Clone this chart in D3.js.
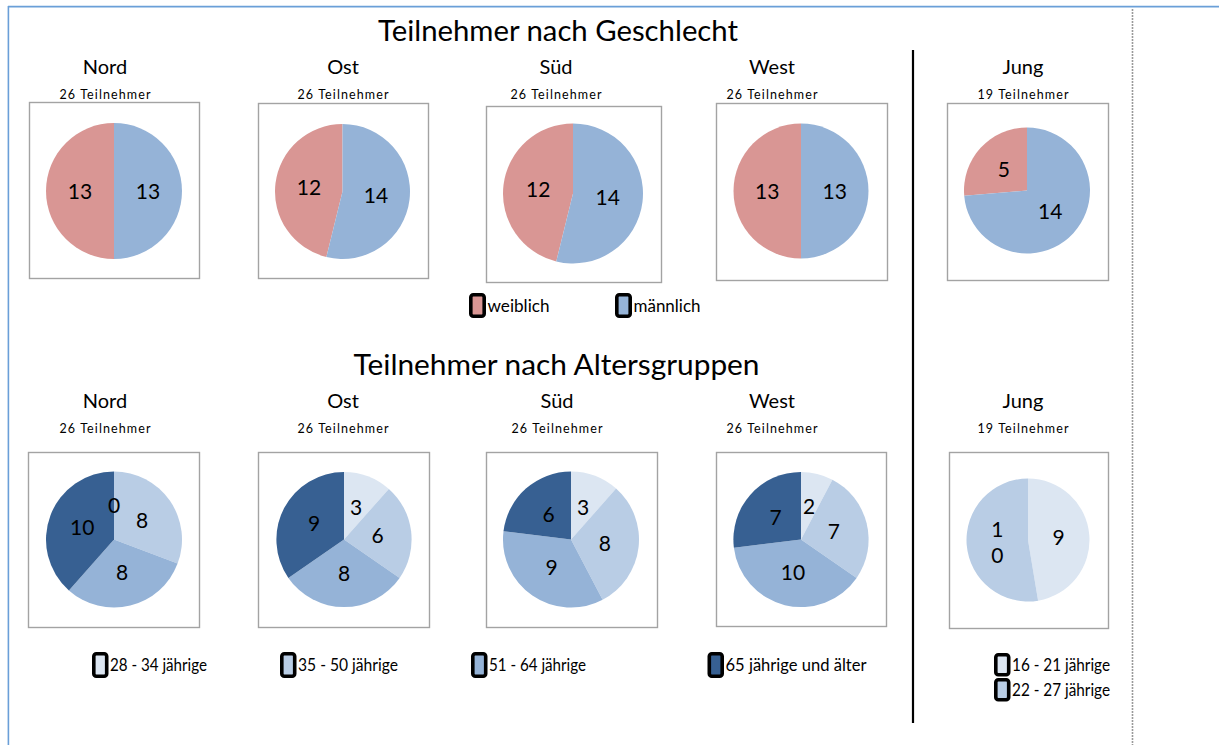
<!DOCTYPE html>
<html>
<head>
<meta charset="utf-8">
<script src="https://cdn.jsdelivr.net/npm/d3@7"></script>
<style>
  html, body { margin: 0; padding: 0; background: #ffffff; }
  svg { display: block; font-family: Lato, "Open Sans", sans-serif; }
</style>
</head>
<body>
<svg id="chart" width="1219" height="745"></svg>
<script>
// ---------------- DATA ----------------
const titleGender = "Teilnehmer nach Geschlecht";
const titleAge = "Teilnehmer nach Altersgruppen";
const regions = ["Nord", "Ost", "Süd", "West"];
const jungName = "Jung";

const genderCategories = ["weiblich", "männlich"];
const weiblich = [13, 12, 12, 13];
const maennlich = [13, 14, 14, 13];
const jungWeiblich = 5;
const jungMaennlich = 14;

const ageCategories = ["28 - 34 jährige", "35 - 50 jährige", "51 - 64 jährige", "65 jährige und älter"];
const age28to34 = [0, 3, 3, 2];
const age35to50 = [8, 6, 8, 7];
const age51to64 = [8, 8, 9, 10];
const age65plus = [10, 9, 6, 7];

const jungAgeCategories = ["16 - 21 jährige", "22 - 27 jährige"];
const jungAge = [9, 10];

const countSuffix = "Teilnehmer";

// ---------------- STYLES / LAYOUT ----------------
const genderColors = ["#d99694", "#95b3d7"];
const ageColors = ["#dce6f2", "#b9cde5", "#95b3d7", "#376092"];
const jungAgeColors = ["#dce6f2", "#b9cde5"];

const genderLayout = [
  { tx: 105,  box: [29, 102, 170, 176],  c: [114, 191],   r: 68 },
  { tx: 343,  box: [258, 103, 170, 175], c: [342.5, 191.5], r: 67.5 },
  { tx: 556,  box: [486, 106, 175, 176], c: [573, 193.5], r: 70 },
  { tx: 772,  box: [716, 103, 171, 177], c: [801, 191],   r: 67.5 },
  { tx: 1023, box: [947, 103, 161, 177], c: [1027, 190.5], r: 63 }
];
const ageLayout = [
  { tx: 105,  box: [28, 452, 171, 175],  c: [114, 539.5], r: 68 },
  { tx: 343,  box: [258, 452, 171, 175], c: [344, 539.5], r: 67.6 },
  { tx: 557,  box: [486, 452, 171, 175], c: [571, 539.5], r: 68 },
  { tx: 772,  box: [716, 452, 170, 174], c: [801, 539.5], r: 67.6 },
  { tx: 1023, box: [949, 452, 159, 176], c: [1028, 540],  r: 61.5 }
];

const svg = d3.select("#chart");

// Outer frame (blue) and dashed page boundary
svg.append("line").attr("x1", 8).attr("x2", 1219).attr("y1", 6.6).attr("y2", 6.6)
  .attr("stroke", "#6a9fd8").attr("stroke-width", 1.6);
svg.append("line").attr("x1", 8.4).attr("x2", 8.4).attr("y1", 6).attr("y2", 745)
  .attr("stroke", "#6a9fd8").attr("stroke-width", 1.6);
svg.append("line").attr("x1", 1132.5).attr("x2", 1132.5).attr("y1", 9).attr("y2", 745)
  .attr("stroke", "#9a9a9a").attr("stroke-width", 1.6).attr("stroke-dasharray", "2,1");
// Separator line
svg.append("line").attr("x1", 913).attr("x2", 913).attr("y1", 50).attr("y2", 723)
  .attr("stroke", "#000").attr("stroke-width", 2.2);

// Section titles
svg.append("text").attr("x", 558).attr("y", 41).attr("text-anchor", "middle")
  .attr("font-size", 28).attr("textLength", 360).attr("lengthAdjust", "spacingAndGlyphs")
  .attr("fill", "#000").text(titleGender);
svg.append("text").attr("x", 556.5).attr("y", 375).attr("text-anchor", "middle")
  .attr("font-size", 28).attr("textLength", 406).attr("lengthAdjust", "spacingAndGlyphs")
  .attr("fill", "#000").text(titleAge);

function drawPanel(name, values, colors, lay, yTitle, ySub, reverse, wrapLong) {
  const g = svg.append("g");
  const total = d3.sum(values);
  g.append("text").attr("x", lay.tx).attr("y", yTitle).attr("text-anchor", "middle")
    .attr("font-size", 20).attr("fill", "#000").text(name);
  g.append("text").attr("x", lay.tx).attr("y", ySub).attr("text-anchor", "middle")
    .attr("font-size", 12.5).attr("textLength", 91).attr("lengthAdjust", "spacing")
    .attr("fill", "#000").text(total + " " + countSuffix);
  g.append("rect").attr("x", lay.box[0] + 0.5).attr("y", lay.box[1] + 0.5)
    .attr("width", lay.box[2]).attr("height", lay.box[3])
    .attr("fill", "#fff").attr("stroke", "#a3a3a3").attr("stroke-width", 1.4);

  const pie = d3.pie().sort(null).value(d => d.v)
    .startAngle(0).endAngle(reverse ? -2 * Math.PI : 2 * Math.PI);
  const arc = d3.arc().innerRadius(0).outerRadius(lay.r);
  const arcs = pie(values.map((v, i) => ({ v, i })));
  const pg = g.append("g").attr("transform", `translate(${lay.c[0]},${lay.c[1]})`);
  pg.selectAll("path").data(arcs).join("path")
    .attr("d", arc).attr("fill", d => colors[d.data.i]);
  arcs.forEach(d => {
    const [x, y] = arc.centroid(d);
    const s = String(d.data.v);
    const t = pg.append("text").attr("x", x).attr("y", y).attr("text-anchor", "middle")
      .attr("font-size", 21).attr("fill", "#000");
    if (wrapLong && s.length > 1) {
      const chars = s.split("");
      chars.forEach((ch, k) => {
        t.append("tspan").attr("x", x)
          .attr("y", y + (k - (chars.length - 1) / 2) * 26)
          .attr("dy", "0.36em").text(ch);
      });
    } else {
      t.attr("dy", "0.36em").text(s);
    }
  });
}

// Gender panels
regions.forEach((reg, i) => {
  drawPanel(reg, [weiblich[i], maennlich[i]], genderColors, genderLayout[i], 74, 99, true, false);
});
drawPanel(jungName, [jungWeiblich, jungMaennlich], genderColors, genderLayout[4], 74, 99, true, false);

// Age panels
regions.forEach((reg, i) => {
  drawPanel(reg, [age28to34[i], age35to50[i], age51to64[i], age65plus[i]], ageColors, ageLayout[i], 408, 433, false, false);
});
drawPanel(jungName, jungAge, jungAgeColors, ageLayout[4], 408, 433, false, true);

// Legends
function legendItem(x, y, w, h, color, label, textW) {
  const sw = 3.6;
  svg.append("rect").attr("x", x + sw / 2).attr("y", y + sw / 2)
    .attr("width", w - sw).attr("height", h - sw).attr("rx", 2.5)
    .attr("fill", color).attr("stroke", "#000").attr("stroke-width", sw);
  svg.append("text").attr("x", x + w + 1.5).attr("y", y + h / 2 + 6)
    .attr("font-size", 17).attr("textLength", textW).attr("lengthAdjust", "spacingAndGlyphs")
    .attr("fill", "#000").text(label);
}
const genderLegendX = [469, 615];
const genderLegendW = [62, 67];
genderCategories.forEach((c, i) => legendItem(genderLegendX[i], 293, 17, 25, genderColors[i], c, genderLegendW[i]));

const ageLegendX = [92, 280, 471, 707.5];
const ageLegendW = [97, 100, 97, 141];
ageCategories.forEach((c, i) => legendItem(ageLegendX[i], 652, 16.5, 26, ageColors[i], c, ageLegendW[i]));

const jungLegendY = [653, 678];
jungAgeCategories.forEach((c, i) => legendItem(994, jungLegendY[i], 16.5, 23.5, jungAgeColors[i], c, 98));
</script>
</body>
</html>
